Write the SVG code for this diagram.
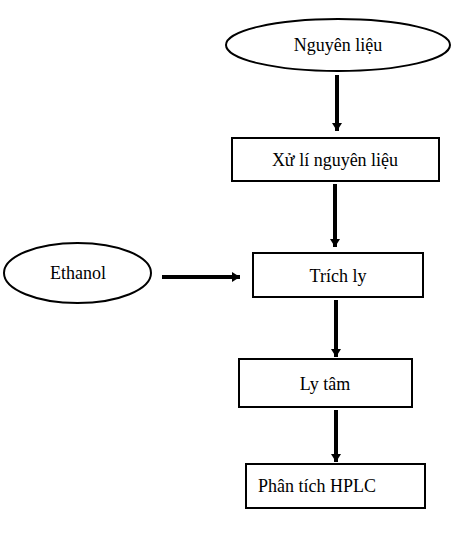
<svg xmlns="http://www.w3.org/2000/svg" width="464" height="539" viewBox="0 0 464 539">
<style>
.n{fill:#fff;stroke:#000;stroke-width:2}
.t{font-family:"Liberation Serif","Times New Roman",serif;font-size:18px;fill:#000}
.c{stroke:#000;stroke-width:4;fill:none}
</style>
<defs>
<marker id="ah" markerUnits="userSpaceOnUse" markerWidth="12" markerHeight="12" viewBox="0 0 12 12" refX="8" refY="6" orient="auto">
<path d="M0,1 L8,6 L0,11 Z" fill="#000"/>
</marker>
</defs>
<rect width="464" height="539" fill="#fff"/>
<g id="connectors">
<line class="c" x1="337" y1="75" x2="337" y2="131" marker-end="url(#ah)"/>
<line class="c" x1="335" y1="184" x2="335" y2="247" marker-end="url(#ah)"/>
<line class="c" x1="162" y1="277" x2="240" y2="277" marker-end="url(#ah)"/>
<line class="c" x1="336" y1="300" x2="336" y2="357" marker-end="url(#ah)"/>
<line class="c" x1="336" y1="410" x2="336" y2="462" marker-end="url(#ah)"/>
</g>
<g id="nguyen-lieu">
<ellipse class="n" cx="338" cy="45" rx="112" ry="26"/>
<text class="t" x="338" y="51" text-anchor="middle">Nguyên liệu</text>
</g>
<g id="xu-li">
<rect class="n" x="232" y="138" width="207" height="43"/>
<text class="t" x="335" y="166" text-anchor="middle">Xử lí nguyên liệu</text>
</g>
<g id="ethanol">
<ellipse class="n" cx="77.5" cy="273" rx="73.5" ry="30"/>
<text class="t" x="78" y="279" text-anchor="middle">Ethanol</text>
</g>
<g id="trich-ly">
<rect class="n" x="253" y="253" width="170" height="44"/>
<text class="t" x="338" y="282" text-anchor="middle">Trích ly</text>
</g>
<g id="ly-tam">
<rect class="n" x="239" y="359" width="173" height="48"/>
<text class="t" x="325" y="390" text-anchor="middle">Ly tâm</text>
</g>
<g id="hplc">
<rect class="n" x="246" y="464" width="179" height="44"/>
<text class="t" x="258" y="492">Phân tích HPLC</text>
</g>
</svg>
